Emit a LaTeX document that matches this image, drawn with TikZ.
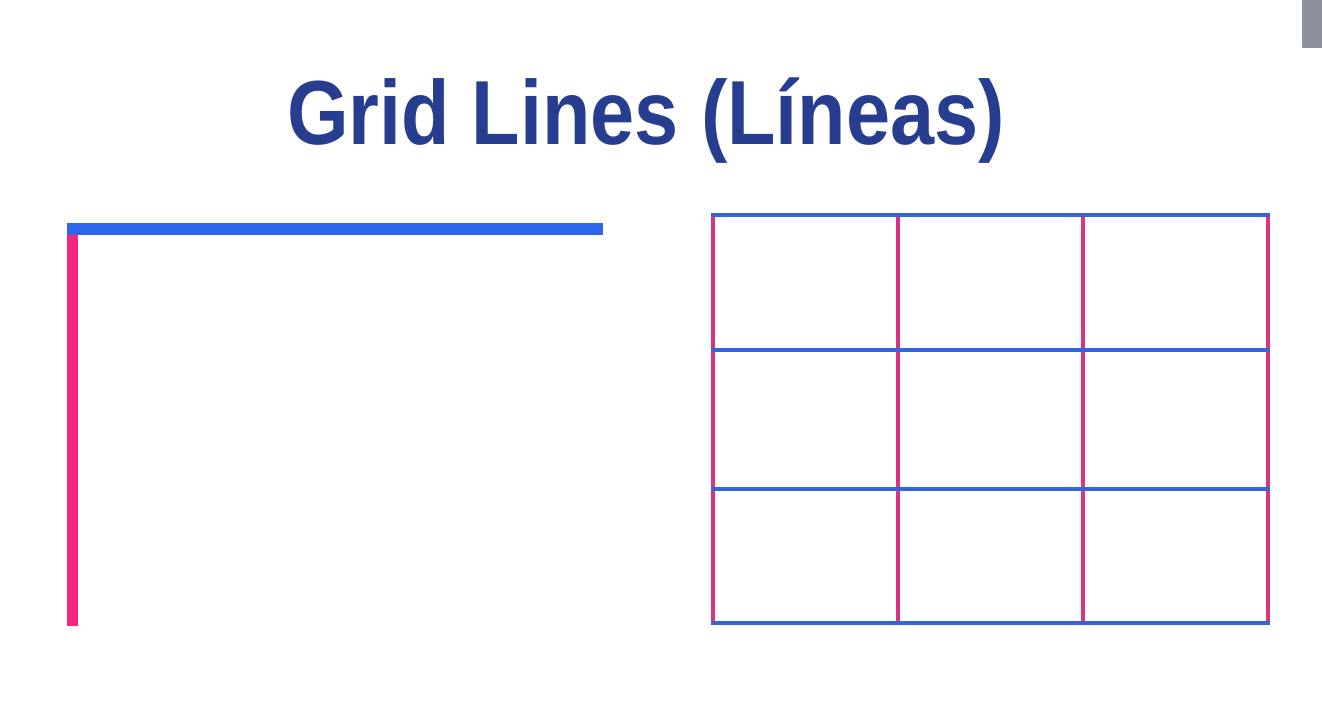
\documentclass[tikz,border=0pt]{standalone}
\usepackage{fontspec}
\setmainfont{Liberation Sans}
\definecolor{navy}{HTML}{273D8F}
\definecolor{blue}{HTML}{2E66EA}
\definecolor{gridblue}{HTML}{3464DA}
\definecolor{pink}{HTML}{F4267F}
\definecolor{gridpink}{HTML}{DA3382}
\definecolor{tab}{HTML}{8E8F9C}
\tikzset{
  title/.style={font=\bfseries\fontsize{91}{100}\selectfont, text=navy,
    inner sep=0pt, anchor=base},
  thick bar/.style={line width=11.5pt},
  grid line/.style={line width=4pt}
}
\begin{document}
\begin{tikzpicture}[x=1pt,y=-1pt]
  \useasboundingbox (0,0) rectangle (1322,714);
  \fill[tab] (1302,0) rectangle (1322,48);

  \node[title] (head) at (646,145) {\scalebox{0.871}[1]{Grid Lines (Líneas)}};

  % single lines
  \draw[thick bar,draw=pink] (72.5,235) -- (72.5,626);
  \draw[thick bar,draw=blue] (67,229) -- (603,229);

  % grid
  \foreach \gx in {713,898,1083,1268}
    \draw[grid line,draw=gridpink] (\gx,215) -- (\gx,623);
  \foreach \gy in {215,350,489,623}
    \draw[grid line,draw=gridblue] (711,\gy) -- (1270,\gy);
\end{tikzpicture}
\end{document}
